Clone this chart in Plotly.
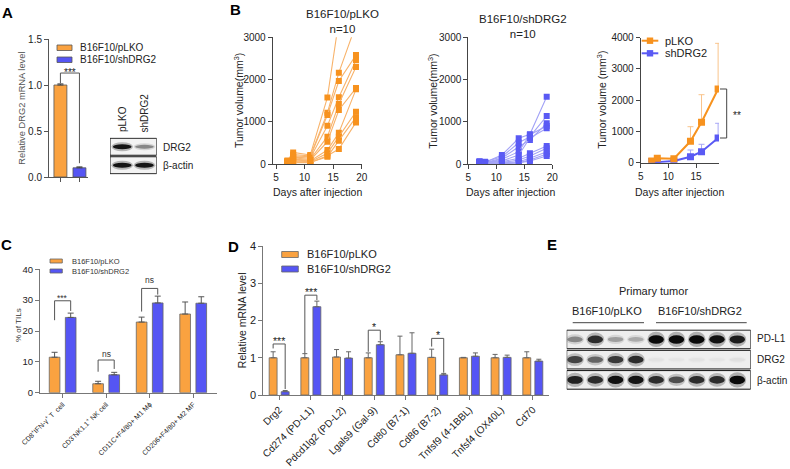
import plotly.graph_objects as go

W, H = 790, 469
FONT = "Arial, Liberation Sans, Helvetica, sans-serif"


def px(x):
    return x / W


def py(y):
    return 1 - y / H


ORANGE = "#FAA240"
BLUE = "#5555F4"
ORANGE_MK = "#F7921E"
ORANGE_LN = "#F8B36B"
BLUE_MK = "#5A5AF4"
BLUE_LN = "#A2A2F6"
ORANGE_ERR = "#F9C48C"
BLUE_ERR = "#A8A8F6"
AX = "#444444"
AXC = "#777777"

# ---------------- data ----------------
# Panel A
a_groups = ["B16F10/pLKO", "B16F10/shDRG2"]
a_mean = [1.00, 0.10]
a_err = [0.012, 0.010]
a_sig_text = "***"
a_sig_top, a_sig_left, a_sig_right = 1.13, 1.02, 0.15

a_blot_lanes = ["pLKO", "shDRG2"]
a_blot_rows = ["DRG2", "β-actin"]
a_blot_int = [[0.95, 0.45],
              [0.95, 0.95]]

# Panel B
days = [7, 8, 11, 14, 16, 19]
plko_mice = [
    [90, 280, 220, 1580, 3400, 5200],
    [70, 230, 200, 1220, 2165, 3300],
    [60, 200, 180, 1165, 1968, 2580],
    [50, 170, 150, 912, 1583, 2460],
    [40, 150, 120, 653, 1425, 2300],
    [80, 120, 100, 535, 1283, 1800],
    [30, 100, 80, 338, 747, 1770],
    [20, 80, 60, 260, 653, 1240],
    [50, 60, 50, 180, 558, 1110],
    [10, 40, 40, 200, 361, 990],
]
shdrg2_mice = [
    [60, 50, 220, 614, 708, 1597],
    [50, 60, 180, 510, 652, 1141],
    [40, 40, 142, 416, 574, 968],
    [70, 30, 120, 298, 700, 905],
    [50, 50, 80, 220, 620, 850],
    [30, 40, 60, 142, 260, 432],
    [40, 20, 40, 100, 196, 378],
    [60, 30, 30, 61, 142, 298],
    [20, 40, 20, 40, 101, 243],
    [30, 20, 10, 30, 80, 196],
]
mean_plko = [54, 141, 128, 685, 1292, 2358]
err_plko = [20, 50, 25, 467, 884, 1462]
mean_sh = [40, 13, 54, 192, 352, 790]
err_sh = [10, 15, 20, 214, 237, 471]
b_sig_text = "**"

# Panel C
c_cats = ["CD8<sup>+</sup>IFN-γ<sup>+</sup> T  cell",
          "CD3<sup>-</sup>NK1.1<sup>+</sup> NK cell",
          "CD11C+F4/80+ M1 Mϕ",
          "CD206+F4/80+ M2 MF"]
c_plko = [11.5, 2.9, 22.9, 25.5]
c_plko_err = [1.6, 0.8, 1.6, 3.9]
c_sh = [24.4, 5.8, 29.1, 29.0]
c_sh_err = [1.4, 0.8, 2.2, 2.1]
# (category index, label, bracket top, left leg end, right leg end, label y)
c_sig = [(0, "***", 29.8, 23.5, 26.5, 31.4),
         (1, "ns", 10.6, 6.8, 7.7, 12.6),
         (2, "ns", 33.8, 26.3, 31.8, 36.4)]

# Panel D
d_cats = ["Drg2", "Cd274 (PD-L1)", "Pdcd1lg2 (PD-L2)", "Lgals9 (Gal-9)",
          "Cd80 (B7-1)", "Cd86 (B7-2)", "Tnfsf9 (4-1BBL)", "Tnfsf4 (OX40L)", "Cd70"]
d_plko = [1.00, 1.00, 1.02, 1.00, 1.08, 1.01, 1.00, 1.00, 1.00]
d_plko_err = [0.16, 0.11, 0.20, 0.13, 0.50, 0.22, 0.01, 0.09, 0.16]
d_sh = [0.09, 2.37, 0.99, 1.35, 1.12, 0.54, 1.04, 1.01, 0.91]
d_sh_err = [0.03, 0.15, 0.17, 0.08, 0.55, 0.04, 0.09, 0.06, 0.05]
d_sig = [(0, "***", 1.37, 1.25, 0.16, 1.50),
         (1, "***", 2.68, 1.12, 2.55, 2.82),
         (3, "*", 1.74, 1.16, 1.46, 1.88),
         (5, "*", 1.52, 1.30, 0.60, 1.66)]

# Panel E
e_lanes = ["pLKO"] * 4 + ["shDRG2"] * 5
e_rows = ["PD-L1", "DRG2", "β-actin"]
e_int = [
    [0.45, 0.85, 0.35, 0.30, 1.00, 1.00, 1.00, 0.97, 0.92],
    [0.75, 0.60, 0.80, 0.85, 0.05, 0.04, 0.05, 0.04, 0.06],
    [0.90, 0.85, 0.97, 0.95, 0.85, 0.70, 0.85, 0.85, 1.00],
]

fig = go.Figure()

# ---------------- panel A bars ----------------
for i, col in enumerate([ORANGE, BLUE]):
    fig.add_trace(go.Bar(
        x=[i], y=[a_mean[i]], width=0.68, name=a_groups[i],
        marker=dict(color=col, line=dict(color="#555", width=0.8)),
        error_y=dict(type="data", array=[a_err[i]], arrayminus=[0], symmetric=False,
                     color="#444", thickness=1, width=3),
        xaxis="x", yaxis="y", showlegend=False))

# ---------------- panel B spaghetti ----------------
for m in plko_mice:
    fig.add_trace(go.Scatter(
        x=days, y=m, mode="lines+markers", xaxis="x3", yaxis="y3", showlegend=False,
        cliponaxis=True, line=dict(color=ORANGE_LN, width=1.1),
        marker=dict(symbol="square", size=6, color=ORANGE_MK)))
for m in shdrg2_mice:
    fig.add_trace(go.Scatter(
        x=days, y=m, mode="lines+markers", xaxis="x4", yaxis="y4", showlegend=False,
        cliponaxis=True, line=dict(color=BLUE_LN, width=1.1),
        marker=dict(symbol="square", size=6, color=BLUE_MK)))

# B right: means
fig.add_trace(go.Scatter(
    x=days, y=mean_sh, mode="lines+markers", xaxis="x5", yaxis="y5", showlegend=False,
    name="shDRG2", line=dict(color=BLUE_MK, width=2),
    marker=dict(symbol="square", size=7, color=BLUE_MK),
    error_y=dict(type="data", array=err_sh, arrayminus=[0] * len(err_sh), symmetric=False,
                 color=BLUE_ERR, thickness=1, width=3)))
fig.add_trace(go.Scatter(
    x=days, y=mean_plko, mode="lines+markers", xaxis="x5", yaxis="y5", showlegend=False,
    name="pLKO", line=dict(color=ORANGE_MK, width=2),
    marker=dict(symbol="square", size=7, color=ORANGE_MK),
    error_y=dict(type="data", array=err_plko, arrayminus=[0] * len(err_plko), symmetric=False,
                 color=ORANGE_ERR, thickness=1, width=3)))

# ---------------- panel C bars ----------------
C_D, C_W = 0.185, 0.245
c_idx = list(range(len(c_cats)))
fig.add_trace(go.Bar(
    x=[i - C_D for i in c_idx], y=c_plko, width=C_W, name="B16F10/pLKO",
    marker=dict(color=ORANGE, line=dict(color="#666", width=0.8)),
    error_y=dict(type="data", array=c_plko_err, arrayminus=[0] * 4, symmetric=False,
                 color="#555", thickness=1, width=3),
    xaxis="x6", yaxis="y6", showlegend=False))
fig.add_trace(go.Bar(
    x=[i + C_D for i in c_idx], y=c_sh, width=C_W, name="B16F10/shDRG2",
    marker=dict(color=BLUE, line=dict(color="#666", width=0.8)),
    error_y=dict(type="data", array=c_sh_err, arrayminus=[0] * 4, symmetric=False,
                 color="#555", thickness=1, width=3),
    xaxis="x6", yaxis="y6", showlegend=False))

# ---------------- panel D bars ----------------
D_D, D_W = 0.19, 0.25
d_idx = list(range(len(d_cats)))
fig.add_trace(go.Bar(
    x=[i - D_D for i in d_idx], y=d_plko, width=D_W, name="B16F10/pLKO",
    marker=dict(color=ORANGE, line=dict(color="#666", width=0.8)),
    error_y=dict(type="data", array=d_plko_err, arrayminus=[0] * 9, symmetric=False,
                 color="#666", thickness=1, width=2.5),
    xaxis="x7", yaxis="y7", showlegend=False))
fig.add_trace(go.Bar(
    x=[i + D_D for i in d_idx], y=d_sh, width=D_W, name="B16F10/shDRG2",
    marker=dict(color=BLUE, line=dict(color="#666", width=0.8)),
    error_y=dict(type="data", array=d_sh_err, arrayminus=[0] * 9, symmetric=False,
                 color="#666", thickness=1, width=2.5),
    xaxis="x7", yaxis="y7", showlegend=False))

shapes = []
annotations = []


def txt(x, y, s, size=10, color="#222", xanchor="center", yanchor="middle",
        angle=0, bold=False, xref="paper", yref="paper", yshift=0):
    if xref == "paper":
        x = px(x)
    if yref == "paper":
        y = py(y)
    annotations.append(dict(
        x=x, y=y, xref=xref, yref=yref, text=("<b>%s</b>" % s) if bold else s,
        showarrow=False, xanchor=xanchor, yanchor=yanchor, textangle=angle,
        font=dict(family=FONT, size=size, color=color), yshift=yshift))


# ---------------- blots ----------------
def add_blot(xa, ya, xr, intens, bg, bw, hb, hg):
    n = len(intens)
    for r, row in enumerate(intens):
        yc = n - 1 - r
        shapes.append(dict(type="rect", xref=xa, yref=ya, x0=xr[0], x1=xr[1],
                           y0=yc - 0.46, y1=yc + 0.46, fillcolor=bg, line=dict(width=0)))
        for lane, v in enumerate(row):
            g = int(round(238 - 228 * v))
            col = "rgb(%d,%d,%d)" % (g, g, g)
            hh = hb + hg * v
            shapes.append(dict(type="circle", xref=xa, yref=ya,
                               x0=lane - bw * 1.15, x1=lane + bw * 1.15,
                               y0=yc - min(hh * 1.8, 0.44), y1=yc + min(hh * 1.8, 0.44),
                               fillcolor=col, opacity=0.28, line=dict(width=0)))
            shapes.append(dict(type="circle", xref=xa, yref=ya,
                               x0=lane - bw, x1=lane + bw, y0=yc - hh, y1=yc + hh,
                               fillcolor=col, line=dict(width=0)))
        shapes.append(dict(type="rect", xref=xa, yref=ya, x0=xr[0], x1=xr[1],
                           y0=yc - 0.46, y1=yc + 0.46, line=dict(color="#111", width=1)))


A_BLOT_XR = [-0.55, 1.55]
E_BLOT_XR = [-0.41, 8.66]
add_blot("x2", "y2", A_BLOT_XR, a_blot_int, "#f3f3f3", 0.42, 0.07, 0.07)
add_blot("x8", "y8", E_BLOT_XR, e_int, "#eeeeee", 0.38, 0.08, 0.13)

# mask above the B-left plot area (lines that run off the top of the axis stop there)
shapes.append(dict(type="rect", xref="paper", yref="paper", x0=px(273.5), x1=px(368),
                   y0=py(36.8), y1=1, fillcolor="white", line=dict(width=0), layer="above"))

# ---------------- significance brackets ----------------
shapes.append(dict(type="path", xref="x", yref="y",
                   path="M 0,%g L 0,%g L 1,%g L 1,%g" % (a_sig_left, a_sig_top, a_sig_top, a_sig_right),
                   line=dict(color="#555", width=1)))
txt(0.5, a_sig_top, a_sig_text, size=10, xref="x", yref="y", yanchor="middle", yshift=1)

for (i, lab, top, lb, rb, ty) in c_sig:
    x0, x1 = i - C_D, i + C_D
    shapes.append(dict(type="path", xref="x6", yref="y6",
                       path="M %g,%g L %g,%g L %g,%g L %g,%g" % (x0, lb, x0, top, x1, top, x1, rb),
                       line=dict(color="#555", width=1)))
    txt(i, ty, lab, size=8.5, color="#333", xref="x6", yref="y6",
        yshift=-2 if lab.startswith("*") else 0)

for (i, lab, top, lb, rb, ty) in d_sig:
    x0, x1 = i - D_D, i + D_D
    shapes.append(dict(type="path", xref="x7", yref="y7",
                       path="M %g,%g L %g,%g L %g,%g L %g,%g" % (x0, lb, x0, top, x1, top, x1, rb),
                       line=dict(color="#555", width=1)))
    txt(i, ty, lab, size=10.5, color="#222", xref="x7", yref="y7", yshift=-2)

# B right bracket (outside x range -> paper x, data y)
shapes.append(dict(type="path", xref="paper", yref="y5",
                   path="M %g,%g L %g,%g L %g,%g L %g,%g" % (
                       px(720), mean_plko[-1], px(726.7), mean_plko[-1],
                       px(726.7), mean_sh[-1], px(720), mean_sh[-1]),
                   line=dict(color="#444", width=1)))
txt(731, (mean_plko[-1] + mean_sh[-1]) / 2, b_sig_text, size=10, xanchor="left",
    yref="y5", yshift=-2)

# ---------------- legends (manual) ----------------
def swatch(x0, y0, x1, y1, col, lc="#555"):
    shapes.append(dict(type="rect", xref="paper", yref="paper", x0=px(x0), x1=px(x1),
                       y0=py(y1), y1=py(y0), fillcolor=col, line=dict(color=lc, width=0.8)))


# A legend
swatch(57, 45, 72, 50.5, ORANGE)
swatch(57, 57, 72, 62.5, BLUE)
txt(78, 47.8, a_groups[0], size=10, xanchor="left")
txt(78, 59.8, a_groups[1], size=10, xanchor="left")
# C legend
swatch(50, 259, 62.3, 263, ORANGE, "#666")
swatch(50, 269, 62.3, 273, BLUE, "#666")
txt(70, 261, "B16F10/pLKO", size=7.5, color="#333", xanchor="left")
txt(70, 271, "B16F10/shDRG2", size=7.5, color="#333", xanchor="left")
# D legend
swatch(281.7, 251.5, 298.3, 257.5, ORANGE, "#666")
swatch(281.7, 266, 298.3, 272, BLUE, "#666")
txt(305, 254.5, "B16F10/pLKO", size=11, xanchor="left")
txt(305, 269, "B16F10/shDRG2", size=11, xanchor="left")
# B right legend
for yy, col, lab in [(40.7, ORANGE_MK, "pLKO"), (53.3, BLUE_MK, "shDRG2")]:
    shapes.append(dict(type="line", xref="paper", yref="paper", x0=px(641.7), x1=px(658.3),
                       y0=py(yy), y1=py(yy), line=dict(color=col, width=2)))
    shapes.append(dict(type="rect", xref="paper", yref="paper", x0=px(646.8), x1=px(653.2),
                       y0=py(yy + 3.2), y1=py(yy - 3.2), fillcolor=col, line=dict(width=0)))
    txt(663, yy, lab, size=11, xanchor="left")

# ---------------- texts ----------------
for L, (lx, ly) in zip("ABCDE", [(7.5, 12.5), (235.7, 10), (6.2, 244.7), (233.3, 246.3), (551.5, 244.7)]):
    txt(lx, ly, L, size=15, color="#000", bold=True)

# A
txt(21.7, 108, "Relative DRG2 mRNA level", size=9.3, color="#555", angle=-90)
txt(122.5, 134.5, a_blot_lanes[0], size=10, angle=-90, yanchor="bottom")
txt(144.5, 134.5, a_blot_lanes[1], size=10, angle=-90, yanchor="bottom")
txt(161, 147, a_blot_rows[0], size=10, xanchor="left")
txt(161, 165.5, a_blot_rows[1], size=10, xanchor="left")

# B
txt(342.5, 21.3, "B16F10/pLKO<br>n=10", size=11.5)
txt(522.5, 26.9, "B16F10/shDRG2<br>n=10", size=11.5)
txt(238, 101, "Tumor volume(mm<sup>3</sup>)", size=10.5, angle=-90)
txt(431.7, 101, "Tumor volume(mm<sup>3</sup>)", size=10.5, angle=-90)
txt(600.8, 100, "Tumor volume (mm<sup>3</sup>)", size=10.5, angle=-90)
txt(317.7, 191.5, "Days after injection", size=10.5)
txt(510.3, 191.5, "Days after injection", size=10.5)
txt(679, 192.5, "Days after injection", size=10.5)

# C / D
txt(18, 325, "% of TILs", size=8, color="#333", angle=-90)
txt(241.7, 320.5, "Relative mRNA level", size=10.5, angle=-90)

# E
txt(653, 290.7, "Primary tumor", size=11)
txt(606.7, 310.7, "B16F10/pLKO", size=11)
txt(699.5, 310.7, "B16F10/shDRG2", size=11)
for (x0, x1) in [(572.7, 644), (656, 746.7)]:
    shapes.append(dict(type="line", xref="paper", yref="paper", x0=px(x0), x1=px(x1),
                       y0=py(322.7), y1=py(322.7), line=dict(color="#444", width=1)))
for lab, yy in zip(e_rows, [338.7, 359.5, 380]):
    txt(754.5, yy, lab, size=10, xanchor="left")


# ---------------- axes ----------------
def xax(d0, d1, rng, anchor, color=AX, fs=10, **kw):
    d = dict(domain=[px(d0), px(d1)], range=rng, anchor=anchor, showgrid=False, zeroline=False,
             showline=True, linecolor=color, linewidth=1, ticks="outside", ticklen=4,
             tickcolor=color, tickwidth=1, fixedrange=True, automargin=False,
             tickfont=dict(family=FONT, size=fs, color="#222"))
    d.update(kw)
    return d


def yax(top, bot, rng, anchor, color=AX, fs=10, **kw):
    d = dict(domain=[py(bot), py(top)], range=rng, anchor=anchor, showgrid=False, zeroline=False,
             showline=True, linecolor=color, linewidth=1, ticks="outside", ticklen=4,
             tickcolor=color, tickwidth=1, fixedrange=True, automargin=False,
             tickfont=dict(family=FONT, size=fs, color="#222"))
    d.update(kw)
    return d


hidden = dict(visible=False, showgrid=False, zeroline=False, fixedrange=True, automargin=False)

layout = dict(
    width=W, height=H, margin=dict(l=0, r=0, t=0, b=0, pad=0, autoexpand=False),
    paper_bgcolor="white", plot_bgcolor="rgba(0,0,0,0)",
    font=dict(family=FONT, size=10, color="#222"),
    barmode="overlay", showlegend=False,
    # A
    xaxis=xax(49, 88, [-0.6, 1.45], "y", tickvals=[0, 1], showticklabels=False, color="#555"),
    yaxis=yax(39, 177, [0, 1.5], "x", tickvals=[0, 0.5, 1.0, 1.5], tickformat=".1f", color="#555"),
    # A blot
    xaxis2=dict(domain=[px(110), px(156.7)], range=A_BLOT_XR, anchor="y2", **hidden),
    yaxis2=dict(domain=[py(174.5), py(137.5)], range=[-0.5, 1.5], anchor="x2", **hidden),
    # B left
    xaxis3=xax(272.7, 361.7, [4.42, 20], "y3", tickvals=[5, 10, 15, 20]),
    yaxis3=yax(37.3, 164.3, [0, 3000], "x3", tickvals=[0, 1000, 2000, 3000]),
    # B middle
    xaxis4=xax(468.3, 552.3, [5, 20], "y4", tickvals=[5, 10, 15, 20]),
    yaxis4=yax(37.3, 164.3, [0, 3000], "x4", tickvals=[0, 1000, 2000, 3000]),
    # B right
    xaxis5=xax(640.7, 719, [5, 19.16], "y5", tickvals=[5, 10, 15]),
    yaxis5=yax(37.7, 162.7, [0, 4000], "x5", tickvals=[0, 1000, 2000, 3000, 4000]),
    # C
    xaxis6=xax(40, 216.7, [-0.52, 3.54], "y6", color=AXC, fs=7, tickvals=c_idx,
               ticktext=c_cats, tickangle=-45),
    yaxis6=yax(269.3, 392.7, [0, 40], "x6", color=AXC, fs=9.5, tickvals=[0, 10, 20, 30, 40]),
    # D
    xaxis7=xax(263.3, 549.3, [-0.5, 8.52], "y7", color=AXC, fs=10, tickvals=d_idx,
               ticktext=d_cats, tickangle=-45),
    yaxis7=yax(246, 395, [0, 4], "x7", color=AXC, fs=11, tickvals=[0, 1, 2, 3, 4]),
    # E blot
    xaxis8=dict(domain=[px(566.7), px(750.7)], range=E_BLOT_XR, anchor="y8", **hidden),
    yaxis8=dict(domain=[py(390), py(329.3)], range=[-0.5, 2.5], anchor="x8", **hidden),
    shapes=shapes,
    annotations=annotations,
)
fig.update_layout(**layout)
fig.write_html(
    "out.html",
    config={"displayModeBar": False, "staticPlot": False},
    post_script="document.body.style.margin='0px';document.body.style.padding='0px';"
                "document.body.style.overflow='hidden';",
)
